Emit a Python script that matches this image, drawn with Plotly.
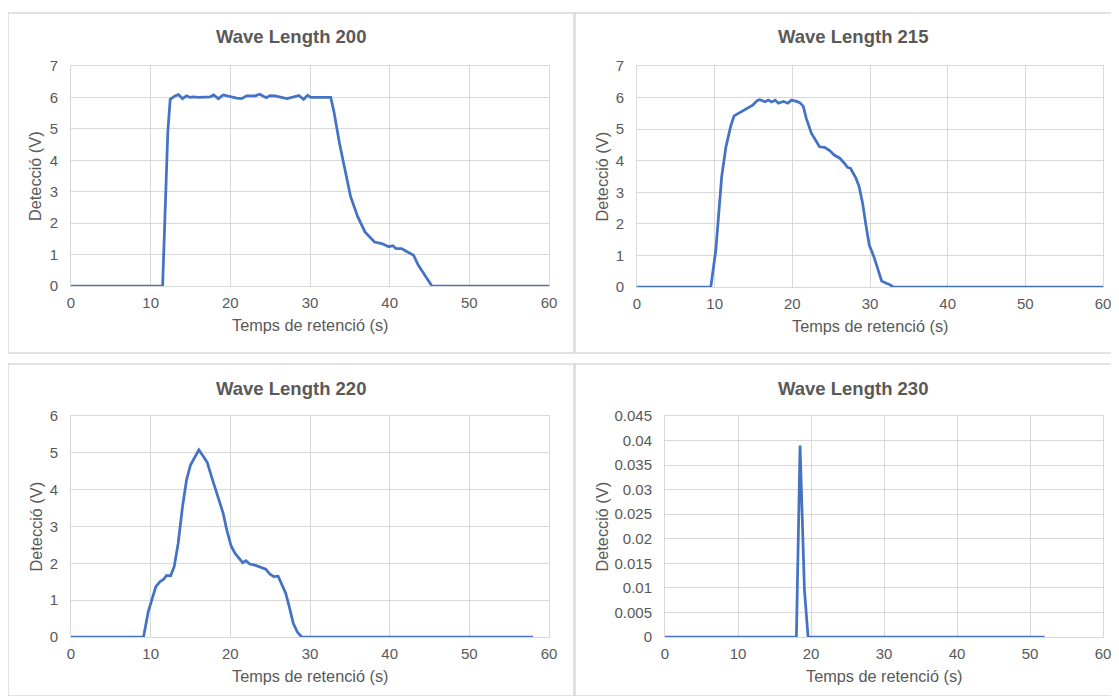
import plotly.graph_objects as go

# ---------------- data ----------------
t200 = [0, 11.5, 12.15, 12.45, 13.05, 13.5, 14.0, 14.5, 14.95, 15.35, 16.0, 17.0, 17.5, 17.9,
        18.5, 19.1, 19.95, 20.8, 21.4, 22.05, 23.1, 23.7, 24.5, 25.0, 25.6, 26.3, 27.1, 28.0,
        28.6, 29.2, 29.7, 30.1, 32.6, 33.0, 33.7, 34.4, 35.1, 36.0, 36.9, 38.1, 39.0, 39.9,
        40.4, 40.8, 41.5, 42.2, 43.0, 43.6, 44.5, 45.3, 60]
v200 = [0, 0, 4.9, 5.94, 6.05, 6.09, 5.96, 6.05, 6.0, 6.02, 6.0, 6.01, 6.02, 6.08,
        5.96, 6.08, 6.02, 5.98, 5.96, 6.05, 6.05, 6.10, 5.99, 6.06, 6.05, 6.0, 5.96, 6.02,
        6.06, 5.94, 6.07, 6.0, 6.0, 5.55, 4.54, 3.69, 2.84, 2.2, 1.72, 1.4, 1.35, 1.25,
        1.28, 1.19, 1.19, 1.09, 0.98, 0.66, 0.29, 0, 0]

t215 = [0, 9.5, 10.15, 10.9, 11.45, 12.05, 12.5, 13.1, 13.75, 14.4, 14.9, 15.45, 15.8, 16.5,
        16.9, 17.35, 17.8, 18.2, 18.85, 19.4, 19.9, 20.55, 20.95, 21.4, 21.8, 22.45, 23.1,
        23.5, 24.15, 24.8, 25.4, 26.1, 26.7, 27.1, 27.5, 28.2, 28.6, 29.05, 29.45, 29.9,
        30.5, 31.1, 31.5, 32.1, 32.5, 33.0, 60]
v215 = [0, 0, 1.17, 3.49, 4.44, 5.08, 5.42, 5.5, 5.59, 5.68, 5.76, 5.9, 5.93, 5.87,
        5.92, 5.86, 5.92, 5.82, 5.88, 5.82, 5.92, 5.88, 5.84, 5.73, 5.34, 4.87, 4.6,
        4.44, 4.42, 4.32, 4.18, 4.08, 3.92, 3.79, 3.76, 3.44, 3.18, 2.65, 2.0, 1.33,
        0.96, 0.48, 0.19, 0.12, 0.08, 0, 0]

t220 = [0, 9.1, 9.7, 10.1, 10.65, 11.15, 11.6, 12.0, 12.5, 12.95, 13.45, 14.0, 14.5, 15.0,
        15.55, 16.05, 16.6, 17.1, 17.65, 18.2, 18.7, 19.1, 19.55, 20.1, 20.6, 21.1, 21.55,
        21.95, 22.45, 23.1, 23.7, 24.45, 24.95, 25.45, 26.0, 26.45, 26.95, 27.4, 27.9,
        28.4, 28.95, 58]
v220 = [0, 0, 0.69, 1.0, 1.37, 1.5, 1.56, 1.67, 1.66, 1.91, 2.54, 3.54, 4.26, 4.67,
        4.9, 5.08, 4.91, 4.74, 4.35, 3.99, 3.67, 3.36, 2.91, 2.47, 2.27, 2.14, 2.02,
        2.07, 1.98, 1.95, 1.91, 1.84, 1.71, 1.64, 1.65, 1.41, 1.19, 0.82, 0.37,
        0.14, 0, 0]

t230 = [0, 18.0, 18.5, 19.1, 19.6, 52]
v230 = [0, 0, 0.039, 0.0096, 0, 0]

titles = ["Wave Length 200", "Wave Length 215", "Wave Length 220", "Wave Length 230"]
x_title = "Temps de retenció (s)"
y_title = "Detecció (V)"

# the page body adds an 8px offset; the figure fills the rest of the window
OFF = 8
W, H = 1119 - OFF, 696 - OFF
LINE = "#4472C4"
GRID = "#d9d9d9"
TXT = "#595959"
FONT = "Liberation Sans, Arial, sans-serif"

# plot-area pixel boxes in window pixels: (left, right, top, bottom)
boxes = [(71, 549, 66, 286), (637, 1103, 66, 287), (71, 549, 416, 637), (665, 1103, 416, 637)]
yranges = [(0, 7, 1), (0, 7, 1), (0, 6, 1), (0, 0.045, 0.005)]
series = [(t200, v200), (t215, v215), (t220, v220), (t230, v230)]
panels = [(8, 574, 13, 353), (575, 1119, 13, 353), (8, 574, 364, 696), (575, 1119, 364, 696)]
title_x = [291, 853, 291, 853]

fig = go.Figure()
layout = dict(
    width=W, height=H, margin=dict(l=0, r=0, t=0, b=0, pad=0, autoexpand=False),
    paper_bgcolor="white", plot_bgcolor="white", showlegend=False,
    font=dict(family=FONT, color=TXT, size=15),
)
annotations = []
shapes = []

def px_x(p):
    return (p - OFF) / W

def px_y(p):
    return 1 - (p - OFF) / H

for i, ((l, r, t, b), (y0, y1, dy), (xs, ys), title, pnl) in enumerate(
        zip(boxes, yranges, series, titles, panels)):
    n = "" if i == 0 else str(i + 1)
    fig.add_trace(go.Scatter(x=xs, y=ys, mode="lines",
                             line=dict(color=LINE, width=2.75),
                             xaxis="x" + n, yaxis="y" + n, hoverinfo="x+y"))
    layout["xaxis" + n] = dict(
        domain=[px_x(l), px_x(r)], anchor="y" + n, range=[0, 60], dtick=10, tick0=0,
        showgrid=True, gridcolor=GRID, gridwidth=1, zeroline=False,
        showline=True, linecolor=GRID, linewidth=1, mirror=True, automargin=False,
        ticks="", ticklabelstandoff=3, tickfont=dict(size=15, color=TXT, family=FONT),
    )
    layout["yaxis" + n] = dict(
        domain=[px_y(b), px_y(t)], anchor="x" + n, range=[y0, y1], dtick=dy, tick0=0,
        showgrid=True, gridcolor=GRID, gridwidth=1, zeroline=False,
        showline=True, linecolor=GRID, linewidth=1, mirror=True, automargin=False,
        ticks="", ticklabelstandoff=9, tickfont=dict(size=15, color=TXT, family=FONT),
        tickformat="~g" if i < 3 else "",
    )
    cx = (l + r) / 2
    annotations.append(dict(text="<b>" + title + "</b>", xref="paper", yref="paper",
                            x=px_x(title_x[i]), y=px_y(pnl[2] + 24),
                            xanchor="center", yanchor="middle",
                            showarrow=False, font=dict(size=18.5, color=TXT, family=FONT)))
    annotations.append(dict(text=x_title, xref="paper", yref="paper",
                            x=px_x(cx), y=px_y(b + 39), xanchor="center", yanchor="middle",
                            showarrow=False, font=dict(size=16.3, color=TXT, family=FONT)))
    ytx = 35 if i in (0, 2) else 601
    annotations.append(dict(text=y_title, xref="paper", yref="paper", textangle=-90,
                            x=px_x(ytx), y=px_y((t + b) / 2), xanchor="center", yanchor="middle",
                            showarrow=False, font=dict(size=16.3, color=TXT, family=FONT)))
    shapes.append(dict(type="rect", xref="paper", yref="paper",
                       x0=px_x(pnl[0]), x1=px_x(pnl[1]), y0=px_y(pnl[3]), y1=px_y(pnl[2]),
                       line=dict(color=GRID, width=1.5), fillcolor="rgba(0,0,0,0)", layer="below"))

layout["annotations"] = annotations
layout["shapes"] = shapes
fig.update_layout(**layout)
fig.write_html("out.html")
